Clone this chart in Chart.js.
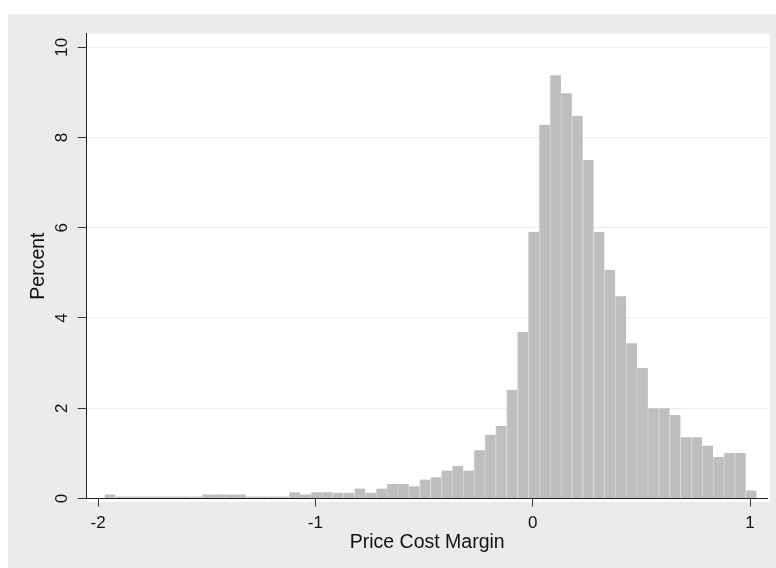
<!DOCTYPE html>
<html>
<head>
<meta charset="utf-8">
<script src="https://cdn.jsdelivr.net/npm/chart.js@4"></script>
<style>
  html, body { margin: 0; padding: 0; background: #ffffff; }
  #wrap { width: 776px; height: 568px; }
</style>
</head>
<body>
<div id="wrap"><canvas id="pcmChart" width="776" height="568"></canvas></div>
<script>
// histogram bins (bin centres, width 0.05)
const binCenters = [
    -1.945, -1.895, -1.845, -1.795, -1.745, -1.695, -1.645, -1.595, -1.545, -1.495,
    -1.445, -1.395, -1.345, -1.295, -1.245, -1.195, -1.145, -1.095, -1.045, -0.995,
    -0.945, -0.895, -0.845, -0.795, -0.745, -0.695, -0.645, -0.595, -0.545, -0.495,
    -0.445, -0.395, -0.345, -0.295, -0.245, -0.195, -0.145, -0.095, -0.045, 0.005,
    0.055, 0.105, 0.155, 0.205, 0.255, 0.305, 0.355, 0.405, 0.455, 0.505,
    0.555, 0.605, 0.655, 0.705, 0.755, 0.805, 0.855, 0.905, 0.955, 1.005
];
const percentValues = [
    0.09, 0.045, 0.045, 0.045, 0.045, 0.045, 0.045, 0.045, 0.045, 0.09,
    0.09, 0.09, 0.09, 0.045, 0.045, 0.045, 0.045, 0.14, 0.09, 0.14,
    0.14, 0.13, 0.13, 0.22, 0.13, 0.22, 0.32, 0.32, 0.27, 0.42,
    0.47, 0.62, 0.72, 0.62, 1.07, 1.41, 1.61, 2.41, 3.69, 5.91,
    8.28, 9.38, 8.98, 8.48, 7.50, 5.91, 5.07, 4.48, 3.44, 2.89,
    2.00, 2.00, 1.85, 1.36, 1.36, 1.17, 0.92, 1.01, 1.01, 0.18
];
const xTicks = [-2, -1, 0, 1];
const yTicks = [0, 2, 4, 6, 8, 10];
const xTitle = 'Price Cost Margin';
const yTitle = 'Percent';

const fontFamily = '"Liberation Sans", Arial, sans-serif';
const tickFont = '17px ' + fontFamily;
const titleFont = '19.5px ' + fontFamily;

// gray outer panel + white plot region, then own text (rotated y labels, titles)
const stataLook = {
    id: 'stataLook',
    beforeDraw(chart) {
        const c = chart.ctx;
        const a = chart.chartArea;
        c.save();
        c.fillStyle = '#ebebeb';
        c.fillRect(8, 14, chart.width - 8, chart.height - 14);
        c.fillStyle = '#ffffff';
        c.fillRect(a.left, a.top, a.right - a.left + 2.3, a.bottom - a.top + 3.2);
        c.restore();
    },
    afterDraw(chart) {
        const c = chart.ctx;
        const a = chart.chartArea;
        const ys = chart.scales.y;
        c.save();
        c.fillStyle = '#111111';
        c.textAlign = 'center';
        c.textBaseline = 'middle';
        c.font = tickFont;
        yTicks.forEach(v => {
            c.save();
            c.translate(62.5, ys.getPixelForValue(v));
            c.rotate(-Math.PI / 2);
            c.fillText(String(v), 0, 0);
            c.restore();
        });
        c.font = titleFont;
        c.fillText(xTitle, (a.left + a.right) / 2, 543);
        c.save();
        c.translate(39, (a.top + a.bottom) / 2);
        c.rotate(-Math.PI / 2);
        c.fillText(yTitle, 0, 0);
        c.restore();
        c.restore();
    }
};

const ctx = document.getElementById('pcmChart').getContext('2d');
const pcmChart = new Chart(ctx, {
    type: 'bar',
    data: {
        datasets: [{
            label: yTitle,
            data: binCenters.map((x, i) => ({ x: x, y: percentValues[i] })),
            backgroundColor: 'rgb(190,190,190)',
            borderColor: 'rgb(212,212,212)',
            borderWidth: { left: 1, right: 0, top: 0, bottom: 0 },
            borderSkipped: false,
            barPercentage: 1.0,
            categoryPercentage: 1.0
        }]
    },
    options: {
        responsive: false,
        animation: false,
        layout: { padding: { left: 0, right: 8.3, top: 33.7, bottom: 0 } },
        plugins: {
            legend: { display: false },
            tooltip: { enabled: false }
        },
        scales: {
            x: {
                type: 'linear',
                offset: false,
                min: -2.0522,
                max: 1.0813,
                afterBuildTicks: s => { s.ticks = xTicks.map(v => ({ value: v })); },
                afterFit: s => { s.height = 69.5; },
                grid: {
                    offset: false,
                    drawOnChartArea: false,
                    drawTicks: true,
                    tickLength: 8,
                    tickColor: '#333333'
                },
                border: { display: true, color: '#222222', width: 1 },
                ticks: {
                    color: '#111111',
                    font: { family: fontFamily, size: 17 },
                    padding: 7,
                    maxRotation: 0,
                    callback: v => String(v)
                }
            },
            y: {
                min: 0,
                max: 10.3,
                afterBuildTicks: s => { s.ticks = yTicks.map(v => ({ value: v })); },
                afterFit: s => { s.width = 86.7; },
                grid: {
                    color: '#eeeeee',
                    drawTicks: true,
                    tickLength: 9,
                    tickColor: '#333333'
                },
                border: { display: true, color: '#222222', width: 1 },
                ticks: { display: false }
            }
        }
    },
    plugins: [stataLook]
});
</script>
</body>
</html>
